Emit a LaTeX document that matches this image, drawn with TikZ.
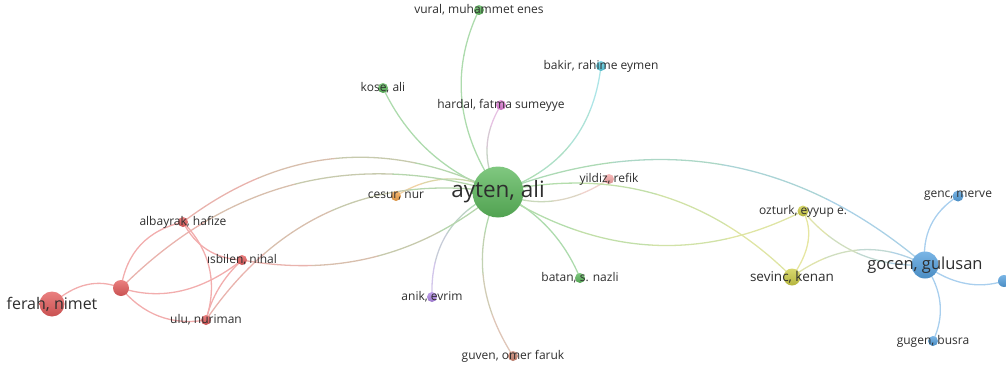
\documentclass[tikz,border=0pt]{standalone}
\usepackage{fontspec}
\setmainfont{Open Sans}
\usetikzlibrary{calc}
\pgfdeclarelayer{bg}
\pgfsetlayers{bg,main}
\definecolor{cR}{RGB}{228,92,92}
\definecolor{cG}{RGB}{92,184,92}
\definecolor{cB}{RGB}{84,160,222}
\definecolor{cY}{RGB}{205,205,70}
\definecolor{cP}{RGB}{175,135,230}
\definecolor{cC}{RGB}{90,205,225}
\definecolor{cO}{RGB}{245,165,75}
\definecolor{cBr}{RGB}{205,135,115}
\definecolor{cPk}{RGB}{225,125,215}
\definecolor{cLp}{RGB}{245,165,165}
\tikzset{
  vn/.style 2 args={circle, inner sep=0pt, minimum size=#2pt, draw=none,
    top color=#1!78!white, bottom color=#1!88!black},
  lab/.style={font=\fontsize{#1}{#1}\selectfont, text=black!82, inner sep=0pt},
  lab/.default=12,
  ed/.style={draw=#1, line width=1.3pt, line cap=round}
}
\newcommand\qedge[5]{%
\begin{pgfonlayer}{bg}
\coordinate (P0) at (#1.center);
\coordinate (P1) at (#2.center);
\coordinate (Cq) at (#3);
\coordinate (B1) at ($0.5625*(P0)+0.375*(Cq)+0.0625*(P1)$);
\coordinate (B2) at ($0.25*(P0)+0.5*(Cq)+0.25*(P1)$);
\coordinate (B3) at ($0.0625*(P0)+0.375*(Cq)+0.5625*(P1)$);
\coordinate (Q1) at ($0.75*(P0)+0.25*(Cq)$);
\coordinate (Q2) at ($0.375*(P0)+0.5*(Cq)+0.125*(P1)$);
\coordinate (Q3) at ($0.125*(P0)+0.5*(Cq)+0.375*(P1)$);
\coordinate (Q4) at ($0.25*(Cq)+0.75*(P1)$);
\draw[ed={#4!88!#5!50!white}] (P0) .. controls ($(P0)!2/3!(Q1)$) and ($(B1)!2/3!(Q1)$) .. (B1);
\draw[ed={#4!63!#5!50!white}] (B1) .. controls ($(B1)!2/3!(Q2)$) and ($(B2)!2/3!(Q2)$) .. (B2);
\draw[ed={#4!38!#5!50!white}] (B2) .. controls ($(B2)!2/3!(Q3)$) and ($(B3)!2/3!(Q3)$) .. (B3);
\draw[ed={#4!13!#5!50!white}] (B3) .. controls ($(B3)!2/3!(Q4)$) and ($(P1)!2/3!(Q4)$) .. (P1);
\end{pgfonlayer}}
\begin{document}
\begin{tikzpicture}[x=1pt,y=-1pt]
\useasboundingbox (0,0) rectangle (1006,369);
\clip (0,0) rectangle (1006,369);
% nodes
\node[vn={cG}{51}, label={[lab=22.5]center:ayten, ali}] (ayten) at (498,192) {};
\node[vn={cG}{10}, label={[lab]center:vural, muhammet enes}] (vural) at (479,10) {};
\node[vn={cC}{10}, label={[lab]center:bakir, rahime eymen}] (bakir) at (601,66) {};
\node[vn={cG}{10}, label={[lab]center:kose, ali}] (kose) at (383,88) {};
\node[vn={cPk}{10}, label={[lab]center:hardal, fatma sumeyye}] (hardal) at (501,105) {};
\node[vn={cO}{10}, label={[lab]center:cesur, nur}] (cesur) at (396,196) {};
\node[vn={cLp}{10}, label={[lab]center:yildiz, refik}] (yildiz) at (609,179) {};
\node[vn={cR}{10}, label={[lab]center:albayrak, hafize}] (albayrak) at (183,222) {};
\node[vn={cR}{10}, label={[lab]center:ısbilen, nihal}] (isbilen) at (242,260) {};
\node[vn={cR}{16}] (rn) at (121,288) {};
\node[vn={cR}{25}, label={[lab=16]center:ferah, nimet}] (ferah) at (52,304) {};
\node[vn={cR}{10}, label={[lab]center:ulu, nuriman}] (ulu) at (206,320) {};
\node[vn={cP}{10}, label={[lab]center:anik, evrim}] (anik) at (432,297) {};
\node[vn={cBr}{10}, label={[lab]center:guven, omer faruk}] (guven) at (513,356) {};
\node[vn={cG}{10}, label={[lab]center:batan, s. nazli}] (batan) at (580,278) {};
\node[vn={cY}{11}, label={[lab]center:ozturk, eyyup e.}] (ozturk) at (803,211) {};
\node[vn={cY}{17}, label={[lab=13.5]center:sevinc, kenan}] (sevinc) at (792,277) {};
\node[vn={cB}{27}, label={[lab=16.5]center:gocen, gulusan}] (gocen) at (925,265) {};
\node[vn={cB}{11}, label={[lab]center:genc, merve}] (genc) at (958,196) {};
\node[vn={cB}{10}, label={[lab]center:gugen, busra}] (gugen) at (933,341) {};
\node[vn={cB}{12}] (rb) at (1004,281) {};
% edges
\qedge{ayten}{vural}{435.5,101}{cG}{cG}
\qedge{ayten}{bakir}{589.7,161.8}{cG}{cC}
\qedge{ayten}{kose}{419,163.8}{cG}{cG}
\qedge{ayten}{hardal}{474.5,147.5}{cG}{cPk}
\qedge{ayten}{cesur}{447,164}{cG}{cO}
\qedge{ayten}{yildiz}{552.5,216.5}{cG}{cLp}
\qedge{ayten}{batan}{555.6,219}{cG}{cG}
\qedge{ayten}{anik}{429.4,222}{cG}{cP}
\qedge{ayten}{guven}{460.5,274}{cG}{cBr}
\qedge{ayten}{gocen}{733.3,101}{cG}{cB}
\qedge{ayten}{ozturk}{649.5,288.5}{cG}{cY}
\qedge{ayten}{sevinc}{668.2,154.1}{cG}{cY}
\qedge{ozturk}{sevinc}{818.5,240}{cY}{cY}
\qedge{ozturk}{gocen}{850.6,268.2}{cY}{cB}
\qedge{sevinc}{gocen}{857.5,229}{cY}{cB}
\qedge{gocen}{genc}{920,220.3}{cB}{cB}
\qedge{gocen}{gugen}{951,303}{cB}{cB}
\qedge{gocen}{rb}{964.5,293.5}{cB}{cB}
\qedge{ferah}{rn}{86.5,273.5}{cR}{cR}
\qedge{rn}{albayrak}{129.4,234.5}{cR}{cR}
\qedge{albayrak}{ayten}{331.3,109.8}{cR}{cG}
\qedge{rn}{ayten}{280.7,128.3}{cR}{cG}
\qedge{rn}{isbilen}{181.5,307.5}{cR}{cR}
\qedge{rn}{ulu}{154.7,328.5}{cR}{cR}
\qedge{albayrak}{isbilen}{201.5,258.2}{cR}{cR}
\qedge{albayrak}{ulu}{223.9,264.2}{cR}{cR}
\qedge{isbilen}{ulu}{214,286}{cR}{cR}
\qedge{ulu}{ayten}{312.2,165}{cR}{cG}
\qedge{isbilen}{ayten}{386,286}{cR}{cG}
\end{tikzpicture}
\end{document}
